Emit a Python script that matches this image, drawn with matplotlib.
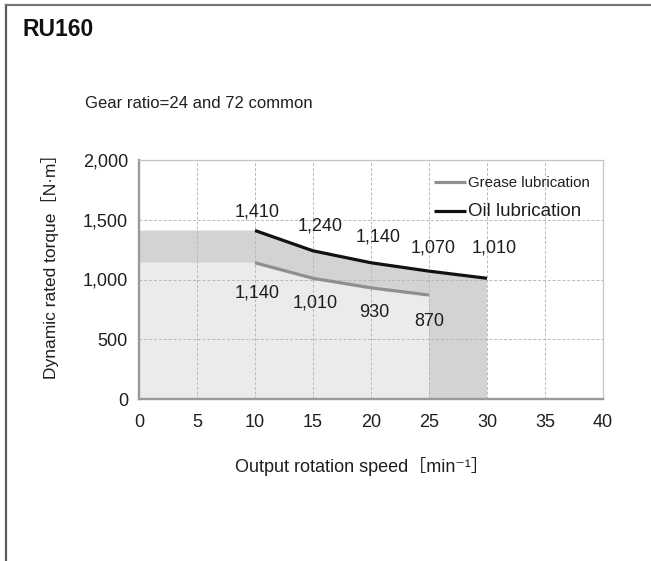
import matplotlib
matplotlib.use("Agg")
import matplotlib.pyplot as plt
from matplotlib.lines import Line2D

# data
speed_grease = [10, 15, 20, 25]
torque_grease = [1140, 1010, 930, 870]
speed_oil = [10, 15, 20, 25, 30]
torque_oil = [1410, 1240, 1140, 1070, 1010]

x_ticks = [0, 5, 10, 15, 20, 25, 30, 35, 40]
y_ticks = [0, 500, 1000, 1500, 2000]

# label offsets in points (dx, dy)
off_oil = [(1.5, 13.5), (5, 18), (5, 18.5), (3, 16.5), (5, 21.5)]
off_grease = [(1.5, -22), (1.5, -17.5), (2, -17.5), (0, -19)]

plt.rcParams['font.family'] = ['Liberation Sans', 'Noto Sans CJK JP', 'DejaVu Sans']

W, H = 651, 561
fig = plt.figure(figsize=(W / 100, H / 100), dpi=100)
ax = fig.add_axes([139 / W, 1 - 399 / H, 464 / W, 239 / H])

light = "#ebebed"
dark = "#d3d3d5"
txt = "#1e1e1e"

# light area under grease curve (flat part before 10 rpm)
gx = [0] + speed_grease
gy = [torque_grease[0]] + torque_grease
ax.fill(gx + [gx[-1], 0], gy + [0, 0], color=light, lw=0, zorder=1)

# darker area between grease and oil
ox = [0] + speed_oil
oy = [torque_oil[0]] + torque_oil
poly_x = ox + [ox[-1], gx[-1]] + gx[::-1]
poly_y = oy + [0, 0] + gy[::-1]
ax.fill(poly_x, poly_y, color=dark, lw=0, zorder=1)

ax.plot(speed_grease, torque_grease, color="#8f8f8f", lw=2.3, zorder=3,
        solid_capstyle="butt", label="Grease lubrication")
ax.plot(speed_oil, torque_oil, color="#111111", lw=2.3, zorder=3,
        solid_capstyle="butt", label="Oil lubrication")

for x, y, (dx, dy) in zip(speed_oil, torque_oil, off_oil):
    ax.annotate(f"{y:,}", (x, y), xytext=(dx, dy), textcoords="offset points",
                ha="center", va="center", fontsize=13, color=txt, zorder=4)
for x, y, (dx, dy) in zip(speed_grease, torque_grease, off_grease):
    ax.annotate(f"{y:,}", (x, y), xytext=(dx, dy), textcoords="offset points",
                ha="center", va="center", fontsize=13, color=txt, zorder=4)

ax.set_xlim(0, 40)
ax.set_ylim(0, 2000)
ax.set_xticks(x_ticks)
ax.set_yticks(y_ticks)
ax.set_yticklabels([f"{v:,}" for v in y_ticks])
ax.tick_params(length=0, labelsize=13, colors=txt)
ax.tick_params(axis="y", pad=8)
ax.tick_params(axis="x", pad=11)
ax.grid(True, ls=(0, (3, 2)), color="#b8b8b8", lw=0.7, zorder=2)
for s in ["top", "right"]:
    ax.spines[s].set_color("#c4c4c4")
    ax.spines[s].set_linewidth(0.9)
for s in ["left", "bottom"]:
    ax.spines[s].set_color("#9a9a9a")
    ax.spines[s].set_linewidth(1.7)
for sp in ax.spines.values():
    sp.set_zorder(5)

leg = ax.legend(loc="upper left", bbox_to_anchor=(0.635, 0.932), frameon=False,
                fontsize=10.8, handlelength=2.15, handletextpad=0.15,
                borderpad=0, borderaxespad=0, labelspacing=0.85)
leg.get_texts()[1].set_fontsize(13.5)
for t in leg.get_texts():
    t.set_color(txt)

fig.text(362 / W, 1 - 466 / H, "Output rotation speed［min⁻¹］", fontsize=13,
         ha="center", va="center", color=txt)
fig.text(50 / W, 1 - 262 / H, "Dynamic rated torque［N·m］", fontsize=12.5,
         ha="center", va="center", rotation=90, color=txt)

fig.text(22 / W, 1 - 30 / H, "RU160", fontsize=16.5, fontweight="bold",
         va="center", ha="left", color="#111111")
fig.text(85 / W, 1 - 104 / H, "Gear ratio=24 and 72 common", fontsize=12,
         va="center", ha="left", color=txt)

# outer frame (top and left only)
fig.add_artist(Line2D([6 / W, 6 / W], [0, 1 - 4.5 / H], transform=fig.transFigure,
                      color="#5a5a5a", lw=1.6))
fig.add_artist(Line2D([6 / W, 1], [1 - 4.5 / H, 1 - 4.5 / H], transform=fig.transFigure,
                      color="#777777", lw=1.6))

fig.savefig("out.png", dpi=100)
